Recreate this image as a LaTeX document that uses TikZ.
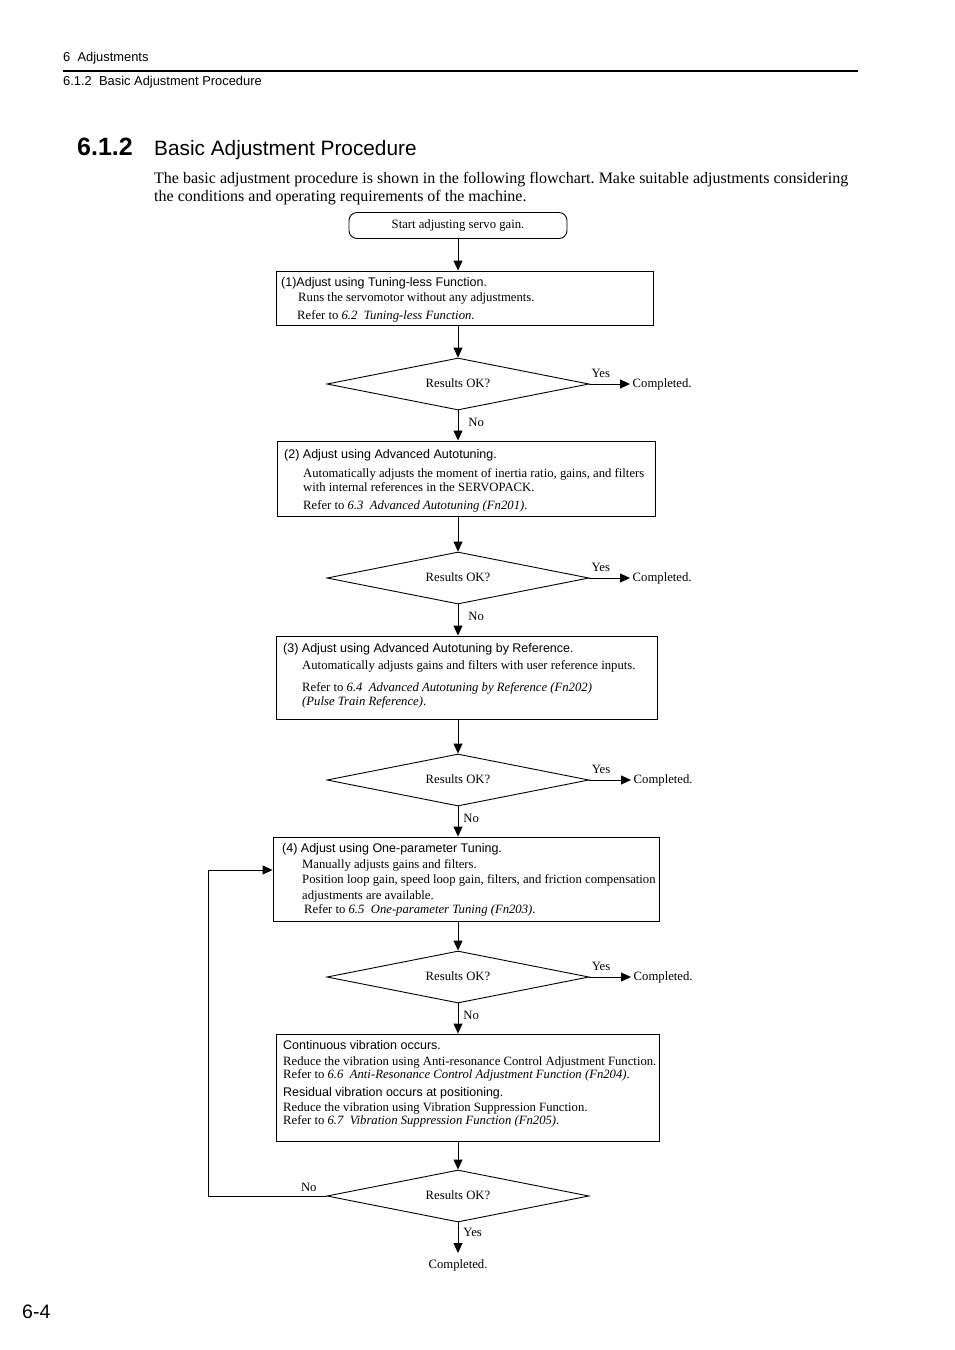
\documentclass[tikz,border=0pt]{standalone}
\usepackage{fontspec}
\setmainfont{Liberation Serif}
\setsansfont{Liberation Sans}
\usetikzlibrary{arrows.meta,shapes.geometric,positioning}
\newcommand\chartsize{\fontsize{12.7pt}{14pt}\selectfont}
\newcommand\chartsf{\fontsize{12.5pt}{14pt}\selectfont\sffamily}

\begin{document}
\frenchspacing
\begin{tikzpicture}[x=1pt,y=-1pt,
  every node/.style={font=\chartsize,inner sep=1pt,text height=8.8pt,text depth=2.8pt},
  free/.style={text height=,text depth=,inner sep=0pt},
  startbox/.style={draw,line width=0.9pt,rounded corners=8pt,minimum width=218pt,minimum height=26pt},
  stepbox/.style={draw,line width=0.9pt,inner sep=0pt},
  dia/.style={draw,line width=0.9pt,diamond,aspect=5,minimum width=262pt,minimum height=52pt,inner sep=0pt},
  txt/.style={anchor=west,yshift=-1.5pt},
  sf/.style={anchor=west,yshift=-1.5pt,font=\chartsf},
  endtxt/.style={anchor=west,inner xsep=2.5pt},
  arr/.style={-{Triangle[length=10pt,width=9pt]},line width=0.9pt}]
\useasboundingbox (0,0) rectangle (954,1350);

% page header
\node[free,anchor=base west,font=\fontsize{12.9pt}{15pt}\sffamily] (chap) at (63,61.5) {6\ \ Adjustments};
\draw[line width=1.6pt] (63,71) -- (858,71);
\node[free,anchor=base west,font=\fontsize{12.9pt}{15pt}\sffamily] (sect) at (63,85) {6.1.2\ \ Basic Adjustment Procedure};
\node[free,anchor=base west,font=\fontsize{25pt}{28pt}\sffamily\bfseries] (hnum) at (77,155) {6.1.2};
\node[free,anchor=base west,font=\fontsize{20.8pt}{24pt}\sffamily] (htitle) at (154,155) {Basic Adjustment Procedure};
\node[free,anchor=north west,text width=694pt,align=justify,font=\fontsize{16pt}{18.5pt}\selectfont] (intro) at (154,172)
  {The basic adjustment procedure is shown in the following flowchart. Make suitable adjustments considering\linebreak
   the conditions and operating requirements of the machine.};

% flowchart
\node[startbox] (start) at (458,225.5) {Start adjusting servo gain.};

\node[stepbox,minimum width=377pt,minimum height=54pt] (b1) at (464.5,298) {};
\node[sf] (b1a) at (280,282) {(1)Adjust using Tuning-less Function.};
\node[txt] (b1b) at (297,297) {Runs the servomotor without any adjustments.};
\node[txt] (b1c) at (296,315) {Refer to \textit{6.2\ \ Tuning-less Function}.};
\node[dia] (d1) at (458,384) {Results OK?};
\node[endtxt] (ok1) at (630,384) {Completed.};

\node[stepbox,minimum width=378pt,minimum height=75pt] (b2) at (466,478.5) {};
\node[sf] (b2a) at (283,454) {(2) Adjust using Advanced Autotuning.};
\node[txt] (b2b) at (302,473) {Automatically adjusts the moment of inertia ratio, gains, and filters};
\node[txt] (b2c) at (302,487) {with internal references in the SERVOPACK.};
\node[txt] (b2d) at (302,505) {Refer to \textit{6.3\ \ Advanced Autotuning (Fn201)}.};
\node[dia] (d2) at (458,578) {Results OK?};
\node[endtxt] (ok2) at (630,578) {Completed.};

\node[stepbox,minimum width=381pt,minimum height=83pt] (b3) at (466.5,677.5) {};
\node[sf] (b3a) at (282,648) {(3) Adjust using Advanced Autotuning by Reference.};
\node[txt] (b3b) at (301,665) {Automatically adjusts gains and filters with user reference inputs.};
\node[txt] (b3c) at (301,687) {Refer to \textit{6.4\ \ Advanced Autotuning by Reference (Fn202)}};
\node[txt] (b3d) at (301,701) {\textit{(Pulse Train Reference)}.};
\node[dia] (d3) at (458,780) {Results OK?};
\node[endtxt] (ok3) at (631,780) {Completed.};

\node[stepbox,minimum width=386pt,minimum height=84pt] (b4) at (466,879) {};
\node[sf] (b4a) at (281,848) {(4) Adjust using One-parameter Tuning.};
\node[txt] (b4b) at (301,864) {Manually adjusts gains and filters.};
\node[txt] (b4c) at (301,879) {Position loop gain, speed loop gain, filters, and friction compensation};
\node[txt] (b4d) at (301,895) {adjustments are available.};
\node[txt] (b4e) at (303,909) {Refer to \textit{6.5\ \ One-parameter Tuning (Fn203)}.};
\node[dia] (d4) at (458,977) {Results OK?};
\node[endtxt] (ok4) at (631,977) {Completed.};

\node[stepbox,minimum width=383pt,minimum height=107pt] (b5) at (467.5,1087.5) {};
\node[sf] (b5a) at (282,1045) {Continuous vibration occurs.};
\node[txt] (b5b) at (282,1061) {Reduce the vibration using Anti-resonance Control Adjustment Function.};
\node[txt] (b5c) at (282,1074) {Refer to \textit{6.6\ \ Anti-Resonance Control Adjustment Function (Fn204)}.};
\node[sf] (b5d) at (282,1092) {Residual vibration occurs at positioning.};
\node[txt] (b5e) at (282,1107) {Reduce the vibration using Vibration Suppression Function.};
\node[txt] (b5f) at (282,1120) {Refer to \textit{6.7\ \ Vibration Suppression Function (Fn205)}.};
\node[dia] (d5) at (458,1196) {Results OK?};
\node[inner ysep=6pt] (done) at (458,1265) {Completed.};
\coordinate (loop) at (208,870);

% connectors
\draw[arr] (start) -- (start |- b1.north);
\foreach \a/\b in {b1/d1,b2/d2,b3/d3,b4/d4,b5/d5} \draw[arr] (\a.south -| \b) -- (\b.north);
\foreach \a/\b/\s in {d1/b2/9,d2/b3/9,d3/b4/4,d4/b5/4}
  \draw[arr] (\a.south) -- node[right,pos=0.42,xshift=\s pt] {No} (\a.south |- \b.north);
\foreach \d/\o in {d1/ok1,d2/ok2,d3/ok3,d4/ok4}
  \draw[arr] (\d.east) -- node[above=2pt,pos=0.28] {Yes} (\o.west);
\draw[arr] (d5.south) -- node[right,pos=0.37,xshift=4pt] {Yes} (done.north);
\draw[arr] (d5.west) -- node[above,pos=0.15] {No} (d5.west -| loop) |- (b4.west |- loop);

% page number
\node[free,anchor=base west,font=\fontsize{19.5pt}{22pt}\sffamily] (page) at (22,1318) {6-4};
\end{tikzpicture}
\end{document}
